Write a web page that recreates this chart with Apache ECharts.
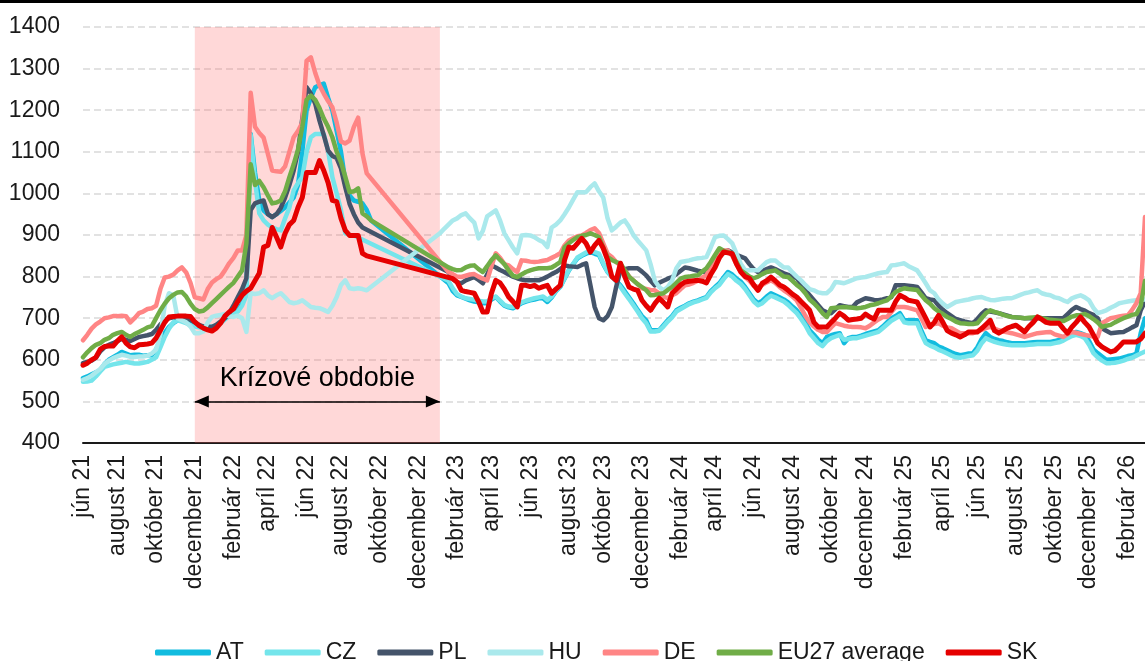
<!DOCTYPE html>
<html>
<head>
<meta charset="utf-8">
<script src="https://cdn.jsdelivr.net/npm/echarts/dist/echarts.min.js"></script>
<style>
  html, body { margin: 0; padding: 0; background: #fff; }
  #chart { width: 1145px; height: 661px; }
</style>
</head>
<body>
<div id="chart"></div>
<script>
// weekly observations, first week of June 2021 .. first week of March 2026
const weekStart = '2021-06-07'
const weekCount = 248
const monthNames = ['január', 'február', 'marec', 'apríl', 'máj', 'jún', 'júl', 'august', 'september', 'október', 'november', 'december']

// crisis period (shaded)
const crisisStart = '2021-12-06'
const crisisEnd = '2023-01-09'
const crisisLabel = 'Krízové obdobie'

const seriesNames = ['AT', 'CZ', 'PL', 'HU', 'DE', 'EU27 average', 'SK']

const at = [
  556, 560, 565, 570, 575, 590, 600, 606, 612, 619,
  615, 611, 612, 612, 610, 611, 611, 625, 647, 665,
  679, 688, 695, 694, 691, 688, 684, 680, 678, 679,
  680, 682, 690, 700, 707, 712, 719, 735, 760, 1143,
  1050, 983, 959, 950, 943, 950, 958, 966, 978, 990,
  1020, 1100, 1200, 1230, 1255, 1260, 1264, 1230, 1199, 1150,
  1100, 1030, 995, 983, 980, 976, 960, 935, null, null,
  null, null, null, null, null, null, null, null, null, null,
  null, null, null, null, null, 784, 765, 755, 751, 747,
  743, 740, 738, 736, 736, 745, 751, 740, 730, 726,
  724, 730, 736, 740, 743, 745, 748, 748, 739, 750,
  765, 775, 795, 815, 830, 844, 850, 855, 859, 855,
  852, 830, 811, 800, 790, 779, 765, 750, 736, 720,
  705, 695, 671, 671, 671, 683, 695, 705, 719, 725,
  730, 736, 740, 743, 747, 751, 765, 775, 784, 798,
  811, 805, 795, 788, 775, 760, 745, 736, 742, 752,
  760, 755, 750, 745, 738, 728, 719, 705, 690, 671,
  660, 648, 640, 655, 659, 662, 664, 640, 652, 655,
  655, 658, 662, 665, 668, 671, 680, 690, 700, 705,
  712, 695, 695, 695, 695, 670, 647, 643, 640, 632,
  628, 623, 618, 614, 611, 613, 615, 616, 630, 650,
  664, 655, 650, 647, 645, 642, 640, 640, 640, 640,
  641, 642, 643, 643, 643, 643, 645, 648, 652, 658,
  663, 667, 664, 660, 645, 625, 616, 608, 600, 601,
  602, 603, 606, 609, 611, 615, 664, 700
]

const cz = [
  547, 548, 550, 560, 572, 583, 586, 589, 591, 593,
  595, 593, 591, 591, 593, 595, 600, 606, 630, 655,
  675, 690, 695, 692, 688, 683, 680, 678, 676, 677,
  679, 681, 688, 697, 705, 710, 716, 730, 755, 1140,
  1030, 952, 935, 925, 918, 914, 911, 940, 966, 1007,
  1025, 1039, 1100, 1135, 1143, 1143, 1143, 1103, 1039, 1000,
  960, 904, 900, 899, null, null, null, null, null, null,
  null, null, null, null, null, null, null, null, null, null,
  null, null, null, null, null, 790, 772, 758, 752, 748,
  746, 744, 742, 740, 740, 748, 752, 742, 732, 728,
  727, 732, 738, 742, 745, 748, 750, 752, 744, 752,
  766, 776, 796, 816, 831, 846, 852, 858, 863, 859,
  855, 832, 812, 800, 788, 775, 760, 746, 731, 716,
  700, 688, 668, 668, 670, 680, 692, 702, 716, 722,
  728, 734, 738, 741, 745, 749, 762, 772, 780, 794,
  806, 800, 790, 782, 770, 755, 740, 731, 736, 746,
  754, 750, 745, 740, 732, 722, 712, 698, 683, 664,
  652, 640, 633, 645, 652, 656, 660, 648, 650, 652,
  652, 655, 658, 661, 664, 667, 676, 685, 694, 700,
  706, 690, 688, 688, 688, 662, 640, 634, 630, 624,
  620, 615, 610, 606, 605, 607, 609, 611, 622, 640,
  652, 647, 643, 640, 638, 636, 635, 635, 635, 635,
  636, 637, 638, 638, 638, 638, 640, 642, 646, 652,
  657, 660, 657, 652, 636, 616, 606, 598, 592, 592,
  593, 595, 598, 602, 605, 610, 615, 620
]

const pl = [
  592, 595, 598, 605, 620, 630, 636, 640, 645, 650,
  648, 645, 650, 655, 657, 659, 662, 672, 685, 695,
  700, 702, 702, 701, 700, 696, 690, 684, 680, 679,
  679, 684, 692, 700, 712, 730, 750, 770, 796, 960,
  976, 980, 983, 950, 943, 950, 965, 990, 1020, 1055,
  1100, 1180, 1255, 1240, 1216, 1175, 1140, 1103, 1090, 1085,
  1060, 1015, 975, 950, 930, 918, null, null, null, null,
  null, null, null, null, null, null, null, null, null, null,
  null, null, null, null, null, 811, 795, 786, 784, 791,
  795, 799, 792, 784, 805, 827, 822, 816, 811, 805,
  800, 796, 793, 791, 791, 791, 791, 795, 800, 806,
  811, 818, 827, 825, 824, 823, 828, 832, 780, 727,
  700, 695, 705, 727, 775, 815, 818, 820, 820, 820,
  812, 803, 790, 779, 785, 790, 795, 799, 806, 814,
  822, 820, 817, 814, 812, 811, 825, 839, 850, 857,
  863, 858, 852, 848, 844, 830, 818, 811, 814, 818,
  822, 818, 813, 808, 804, 800, 796, 782, 767, 755,
  743, 731, 719, 714, 712, 722, 731, 729, 727, 727,
  738, 743, 748, 746, 744, 743, 745, 748, 751, 779,
  779, 779, 778, 777, 775, 762, 748, 745, 743, 730,
  720, 712, 705, 698, 695, 692, 690, 688, 698, 710,
  719, 716, 714, 712, 709, 706, 703, 702, 701, 700,
  700, 700, 700, 700, 700, 700, 700, 700, 700, 710,
  720, 727, 722, 718, 712, 708, 700, 676, 670, 664,
  665, 666, 667, 672, 678, 683, 719, 740
]

const hu = [
  552, 556, 562, 570, 578, 590, 598, 604, 608, 612,
  610, 607, 607, 608, 608, 610, 615, 625, 660, 730,
  760, 755, 700, 695, 690, 680, 664, 664, 668, 690,
  703, 706, 708, 710, 705, 703, 706, 700, 667, 760,
  758, 760, 767, 755, 748, 755, 760, 750, 739, 736,
  738, 743, 735, 727, 725, 724, 720, 715, 730, 751,
  780, 791, 772, 770, 772, 770, 767, null, null, null,
  null, null, null, null, null, null, null, null, null, null,
  null, null, null, 904, 915, 925, 935, 940, 948, 952,
  940, 930, 892, 910, 945, 952, 959, 935, 904, 887,
  870, 856, 899, 900, 899, 895, 888, 883, 871, 918,
  925, 935, 950, 966, 985, 1003, 1003, 1003, 1015, 1024,
  1005, 990, 940, 911, 920, 930, 935, 920, 900, 887,
  875, 863, 830, 790, 775, 767, 775, 790, 820, 835,
  837, 839, 842, 844, 845, 847, 870, 895, 898, 899,
  890, 880, 855, 830, 815, 815, 815, 815, 825, 835,
  839, 839, 830, 822, 822, 810, 800, 791, 780, 770,
  767, 762, 760, 760, 770, 787, 786, 784, 788, 792,
  796, 798, 799, 802, 805, 808, 810, 811, 827, 828,
  830, 832, 825, 820, 815, 800, 784, 767, 760, 745,
  735, 727, 733, 739, 741, 743, 745, 748, 750, 751,
  747, 744, 743, 745, 747, 748, 748, 752, 756, 760,
  762, 765, 767, 760, 757, 755, 750, 748, 743, 739,
  748, 752, 755, 750, 743, 725, 712, 715, 719, 725,
  730, 736, 738, 740, 742, 743, 744, 745
]

const de = [
  647, 660, 675, 685, 692, 700, 702, 705, 705, 706,
  705, 690, 700, 712, 716, 722, 724, 730, 770, 798,
  800, 805, 815, 822, 810, 785, 750, 748, 745, 770,
  786, 794, 800, 815, 832, 845, 863, 863, 900, 1242,
  1160, 1145, 1134, 1095, 1055, 1053, 1052, 1065, 1100, 1135,
  1150, 1170, 1319, 1327, 1290, 1260, 1240, 1222, 1207, 1170,
  1125, 1120, 1127, 1160, 1182, 1096, 1048, null, null, null,
  null, null, null, null, null, null, null, null, null, null,
  null, null, null, null, null, 811, 806, 800, 799, 802,
  805, 806, 800, 795, 791, 825, 856, 845, 830, 827,
  818, 811, 839, 838, 836, 835, 836, 838, 840, 845,
  850, 856, 875, 887, 892, 897, 899, 905, 912, 916,
  905, 880, 855, 847, 835, 827, 815, 800, 791, 782,
  772, 770, 768, 767, 760, 752, 748, 755, 760, 770,
  779, 781, 785, 790, 798, 803, 825, 844, 855, 863,
  863, 850, 830, 812, 799, 790, 778, 775, 780, 786,
  791, 785, 775, 767, 760, 752, 743, 725, 706, 690,
  680, 672, 667, 667, 678, 688, 685, 682, 680, 679,
  679, 678, 676, 682, 690, 697, 703, 703, 715, 727,
  727, 727, 725, 722, 719, 700, 679, 684, 686, 688,
  682, 678, 676, 670, 664, 664, 664, 664, 668, 672,
  676, 679, 675, 671, 668, 666, 664, 661, 658, 655,
  658, 661, 664, 665, 666, 667, 661, 658, 655, 661,
  667, 665, 662, 660, 658, 656, 655, 688, 694, 700,
  702, 704, 706, 707, 720, 736, 760, 943
]

const eu27 = [
  606, 618, 628, 636, 640, 648, 652, 660, 664, 667,
  660, 655, 662, 667, 672, 678, 681, 700, 719, 735,
  748, 756, 762, 763, 752, 735, 722, 716, 718, 726,
  736, 746, 756, 766, 776, 785, 800, 815, 880, 1070,
  1020, 1030, 1015, 995, 976, 978, 983, 1005, 1039, 1070,
  1105, 1160, 1225, 1235, 1225, 1205, 1180, 1160, 1135, 1100,
  1075, 1040, 1003, 1005, 1012, 952, 945, 935, null, null,
  null, null, null, null, null, null, null, null, null, null,
  null, null, null, null, null, 822, 818, 815, 816, 822,
  826, 827, 818, 811, 825, 840, 851, 840, 830, 815,
  802, 799, 805, 811, 815, 818, 820, 820, 820, 822,
  828, 835, 870, 880, 888, 895, 898, 900, 904, 900,
  895, 870, 847, 840, 835, 832, 815, 800, 791, 782,
  775, 767, 755, 756, 758, 760, 768, 775, 785, 795,
  799, 800, 802, 803, 812, 820, 835, 852, 868, 862,
  858, 856, 835, 815, 808, 800, 796, 800, 806, 811,
  813, 815, 808, 800, 799, 790, 780, 772, 760, 745,
  736, 725, 712, 703, 724, 725, 726, 727, 726, 725,
  724, 725, 727, 731, 733, 736, 740, 743, 752, 763,
  768, 772, 770, 769, 768, 755, 743, 735, 724, 716,
  710, 703, 698, 692, 688, 687, 686, 686, 688, 700,
  712, 719, 715, 712, 708, 705, 703, 702, 701, 700,
  701, 702, 703, 700, 698, 696, 695, 694, 693, 698,
  704, 707, 708, 710, 705, 698, 690, 679, 682, 684,
  690, 695, 700, 704, 708, 710, 730, 790
]

const sk = [
  587, 592, 600, 606, 625, 632, 633, 633, 645, 655,
  640, 631, 629, 636, 637, 638, 640, 652, 671, 690,
  703, 704, 705, 705, 705, 704, 691, 682, 676, 672,
  669, 676, 688, 705, 715, 722, 740, 755, 765, 772,
  790, 808, 871, 875, 918, 895, 871, 904, 925, 935,
  966, 990, 1050, 1050, 1050, 1079, 1055, 1026, 983, 980,
  940, 911, 899, 899, 899, 856, 850, null, null, null,
  null, null, null, null, null, null, null, null, null, null,
  null, null, null, null, null, null, 795, 787, 767, 764,
  762, 760, 740, 715, 715, 760, 791, 785, 770, 751,
  740, 727, 779, 779, 776, 779, 772, 776, 779, 760,
  770, 779, 840, 871, 868, 880, 892, 880, 859, 875,
  887, 868, 840, 800, 791, 832, 800, 775, 770, 767,
  743, 730, 719, 735, 748, 738, 727, 760, 770, 780,
  787, 789, 790, 791, 789, 785, 805, 822, 845, 859,
  857, 855, 830, 811, 800, 796, 780, 767, 784, 790,
  799, 790, 780, 775, 767, 758, 751, 740, 730, 719,
  690, 679, 679, 679, 690, 700, 712, 705, 695, 697,
  698, 700, 710, 703, 698, 719, 719, 719, 719, 740,
  755, 750, 743, 741, 739, 720, 700, 679, 690, 707,
  690, 670, 664, 660, 655, 660, 667, 667, 667, 675,
  685, 695, 670, 664, 670, 676, 680, 683, 675, 667,
  680, 690, 703, 697, 690, 688, 688, 688, 675, 664,
  679, 690, 703, 690, 679, 660, 640, 631, 625, 619,
  622, 632, 643, 643, 643, 643, 650, 664
]

const seriesValues = [at, cz, pl, hu, de, eu27, sk]
const seriesColors = ['#12BCDF', '#74E5EB', '#44546A', '#AAE9EC', '#FF8585', '#70AD47', '#E50000']

const yTicks = { min: 400, max: 1400, interval: 100 }

// weekly category labels
const categories = []
let d0 = new Date(weekStart + 'T00:00:00Z')
for (let i = 0; i < weekCount; i++) {
  categories.push(new Date(d0.getTime() + i * 7 * 86400000).toISOString().slice(0, 10))
}

const font = '"Liberation Sans", Arial, sans-serif'

const chart = echarts.init(document.getElementById('chart'), null, { renderer: 'canvas' })

const lineSeries = seriesNames.map((name, k) => ({
  name: name,
  type: 'line',
  data: seriesValues[k],
  connectNulls: true,
  symbol: 'none',
  color: seriesColors[k],
  lineStyle: { width: name === 'SK' ? 5 : 4.5, color: seriesColors[k], join: 'round', cap: 'round' },
  emphasis: { disabled: true },
  z: 2
}))

// shading over the crisis period, drawn above the lines
lineSeries.push({
  name: 'crisis',
  type: 'line',
  data: [],
  z: 10,
  silent: true,
  markArea: {
    silent: true,
    itemStyle: { color: 'rgba(255, 100, 100, 0.25)' },
    data: [[{ xAxis: crisisStart, yAxis: yTicks.min }, { xAxis: crisisEnd, yAxis: yTicks.max }]]
  },
  markLine: {
    silent: true,
    symbol: ['triangle', 'triangle'],
    symbolSize: [12, 14],
    symbolOffset: [[0, 7], [0, 7]],
    lineStyle: { color: '#000', width: 1.5, type: 'solid' },
    label: {
      show: true,
      position: 'middle',
      formatter: crisisLabel,
      color: '#000',
      fontFamily: font,
      fontSize: 27,
      distance: 9
    },
    data: [[{ coord: [crisisStart, 500] }, { coord: [crisisEnd, 500] }]]
  }
})

chart.setOption({
  animation: false,
  backgroundColor: '#fff',
  grid: { left: 83, right: 0, top: 27, bottom: 218, outerBoundsMode: 'none' },
  legend: {
    data: seriesNames,
    left: 150,
    top: 636,
    icon: 'roundRect',
    itemWidth: 56,
    itemHeight: 6,
    itemGap: 21,
    textStyle: { fontFamily: font, fontSize: 23, color: '#1a1a1a' }
  },
  xAxis: {
    type: 'category',
    data: categories,
    boundaryGap: false,
    axisLine: { lineStyle: { color: '#1a1a1a', width: 2 } },
    axisTick: { show: false },
    splitLine: { show: false },
    axisLabel: {
      rotate: 90,
      margin: 12,
      fontFamily: font,
      fontSize: 23,
      color: '#1a1a1a',
      interval: (idx, value) => {
        const dt = new Date(value + 'T00:00:00Z')
        return (dt.getUTCMonth() + 1) % 2 === 0 && dt.getUTCDate() <= 7
      },
      formatter: (value) => {
        const dt = new Date(value + 'T00:00:00Z')
        return monthNames[dt.getUTCMonth()] + ' ' + String(dt.getUTCFullYear()).slice(2)
      }
    }
  },
  yAxis: {
    type: 'value',
    min: yTicks.min,
    max: yTicks.max,
    interval: yTicks.interval,
    axisLine: { show: false },
    axisTick: { show: false },
    axisLabel: { margin: 23, fontFamily: font, fontSize: 23, color: '#1a1a1a', formatter: (v) => String(v) },
    splitLine: { lineStyle: { color: '#d9d9d9', width: 1.5, type: [7, 4] } }
  },
  graphic: [
    // black frame line at the top edge
    { type: 'rect', left: 0, top: 0, shape: { width: 1145, height: 3 }, style: { fill: '#000' }, silent: true }
  ],
  series: lineSeries
})
</script>
</body>
</html>
